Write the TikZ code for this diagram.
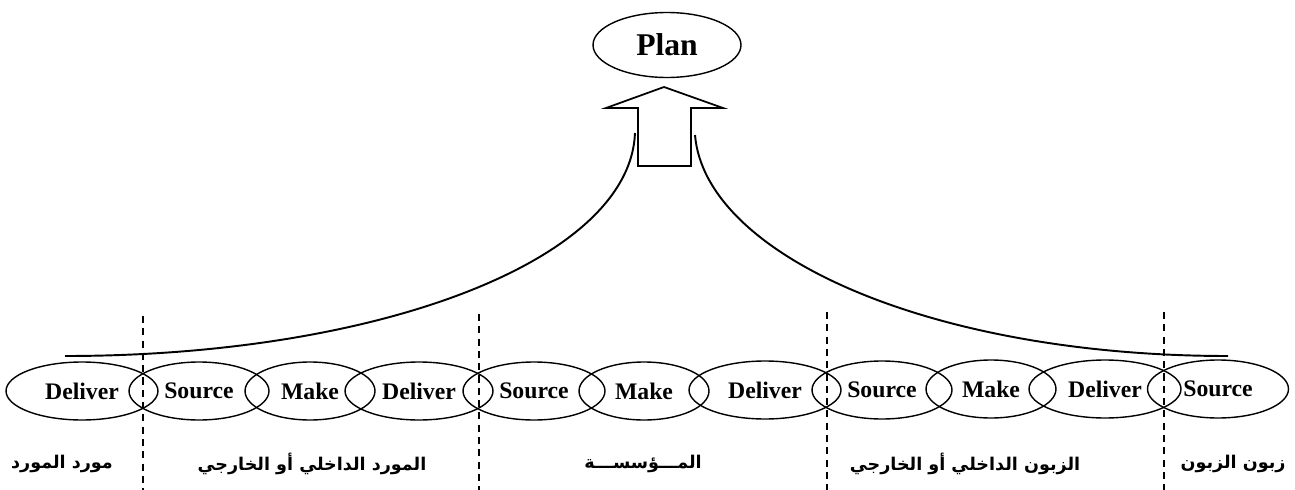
\documentclass[tikz,border=0pt]{standalone}
\usepackage{fontspec}
\setmainfont{Liberation Serif}
\newfontfamily\arabicfont[Script=Arabic]{DejaVu Sans}
\TeXXeTstate=1
\usetikzlibrary{shapes.geometric}

\begin{document}
\begin{tikzpicture}[x=0.02cm, y=-0.02cm,
  stage/.style={draw, ellipse, line width=0.8pt, inner sep=0pt, minimum height=1.16cm, font=\bfseries\fontsize{13.5}{15}\selectfont},
  zone/.style={font=\arabicfont\bfseries\fontsize{10}{12}\selectfont},
  border/.style={line width=0.6pt, dash pattern=on 4pt off 3pt},
  flow/.style={line width=1.1pt}]
\useasboundingbox (0,0) rectangle (1295,490);

% plan at the top
\node[stage, minimum width=2.96cm, minimum height=1.3cm, font=\bfseries\fontsize{18}{20}\selectfont] (plan) at (667,45) {Plan};

% block arrow up to plan
\coordinate (up) at (664,87);
\draw[line width=1pt] (up) -- (723,108) -- (691,108) -- (691,166) -- (638,166) -- (638,108) -- (606,108) -- cycle;

% chain of stages
\node[stage, minimum width=3.04cm] (d1) at (82,391) {Deliver};
\node[stage, minimum width=2.8cm] (s1) at (199,391) {Source};
\node[stage, minimum width=2.6cm] (m1) at (310,391) {Make};
\node[stage, minimum width=2.96cm] (d2) at (419,391) {Deliver};
\node[stage, minimum width=2.84cm] (s2) at (534,391) {Source};
\node[stage, minimum width=2.6cm] (m2) at (644,391) {Make};
\node[stage, minimum width=3.04cm] (d3) at (765,390) {Deliver};
\node[stage, minimum width=2.8cm] (s3) at (882,390) {Source};
\node[stage, minimum width=2.6cm] (m3) at (991,389) {Make};
\node[stage, minimum width=3.04cm] (d4) at (1105,389) {Deliver};
\node[stage, minimum width=2.82cm] (s4) at (1218,389) {Source};

% feedback curves
\coordinate (la) at (635,133);
\coordinate (lb) at (65,356);
\coordinate (ra) at (695,135);
\coordinate (rb) at (1228,356);
\draw[flow] (la) .. controls (630,260) and (380,356) .. (lb);
\draw[flow] (ra) .. controls (705,255) and (930,356) .. (rb);

% borders between partners
\foreach \bx/\by in {143/316, 479/314, 827/312, 1164/312}
  \draw[border] (\bx,\by) -- (\bx,490);

% partner labels
\node[zone] (z1) at (62,464) {\beginR مورد المورد\endR};
\node[zone] (z2) at (312,464) {\beginR المورد الداخلي أو الخارجي\endR};
\node[zone] (z3) at (643,464) {\beginR المـــؤسســـة\endR};
\node[zone] (z4) at (965,464) {\beginR الزبون الداخلي أو الخارجي\endR};
\node[zone] (z5) at (1233,464) {\beginR زبون الزبون\endR};
\end{tikzpicture}
\end{document}
